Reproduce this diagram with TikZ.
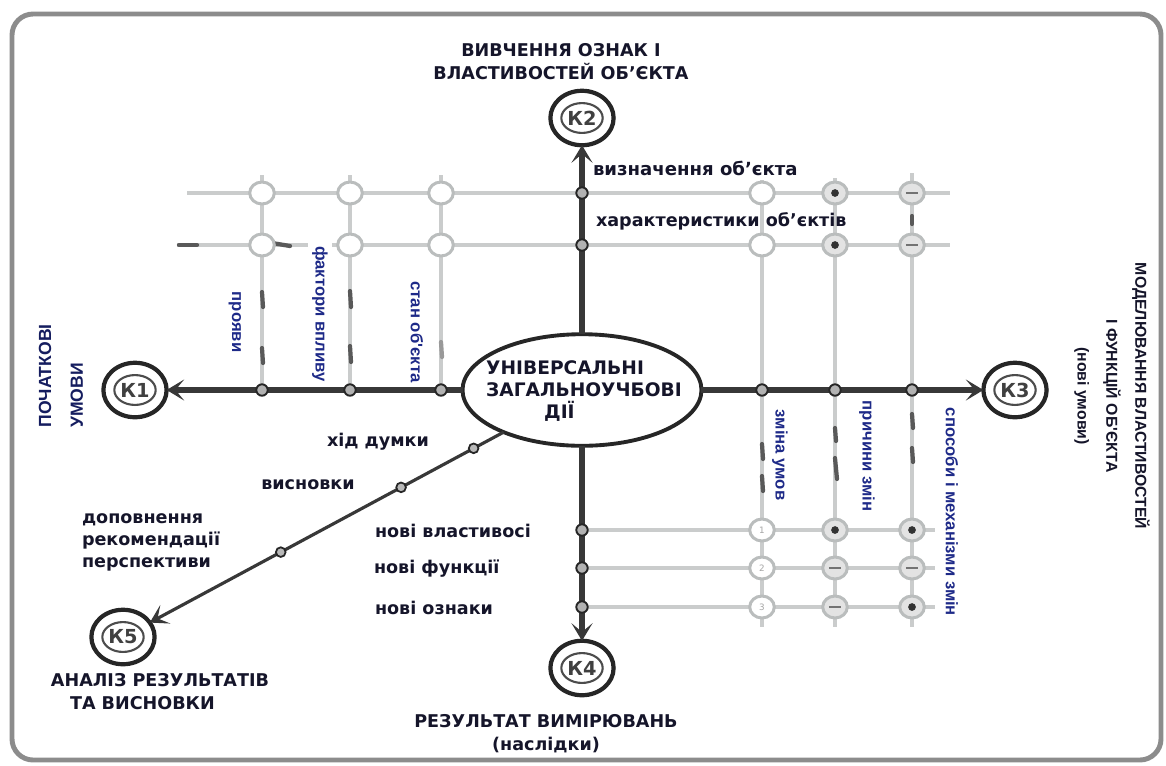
\documentclass[tikz,border=0pt]{standalone}
\usepackage{fontspec}
\setmainfont{DejaVu Sans}
\newfontfamily\narrowfont{Liberation Sans}
\usetikzlibrary{arrows.meta,shapes.geometric}

\definecolor{axisgray}{HTML}{383838}
\definecolor{gridgray}{HTML}{CACCCC}
\definecolor{ringgray}{HTML}{BABDBD}
\definecolor{inkblue}{HTML}{1E2A88}
\definecolor{ink}{HTML}{15152A}
\definecolor{framegray}{HTML}{8C8C8C}

\begin{document}
\begin{tikzpicture}[x=0.02cm,y=-0.02cm,
  every node/.style={inner sep=0pt, outer sep=0pt},
  axisline/.style={line width=3pt, draw=axisgray},
  tipend/.style={-{Stealth[length=10pt,width=12pt,inset=5pt]}},
  diagline/.style={line width=1.8pt, draw=axisgray},
  gridline/.style={line width=2.6pt, draw=gridgray},
  darkdash/.style={line width=2.4pt, draw=black!65, line cap=round},
  kring/.style={ellipse, draw=black!85, line width=2.4pt, fill=white,
    minimum width=36pt, minimum height=31pt},
  kinner/.style={ellipse, draw=black!70, line width=1.2pt, inner sep=0pt,
    minimum width=21pt, minimum height=17pt,
    font=\bfseries\fontsize{11}{11}\selectfont, text=black!75},
  axdot/.style={circle, draw=black!85, fill=gray!60, line width=1.1pt, minimum size=6.5pt},
  diagdot/.style={circle, draw=black!85, fill=gray!55, line width=1pt, minimum size=5.5pt},
  ring/.style={ellipse, draw=ringgray, fill=white, line width=1.7pt,
    minimum width=14pt, minimum height=12.5pt},
  ringdot/.style={ring, fill=gray!22, path picture={
    \fill[black!80] (path picture bounding box.center) circle (2.2pt);}},
  ringdash/.style={ring, fill=gray!22, path picture={
    \draw[black!55, line width=1.4pt]
      ([xshift=-3.5pt]path picture bounding box.center) --
      ([xshift=3.5pt]path picture bounding box.center);}},
  ringnum/.style={ring, font=\fontsize{5}{5}\selectfont, text=gray!70},
  mainlabel/.style={font=\bfseries\fontsize{10}{13}\selectfont, text=ink},
  sidelabel/.style={font=\narrowfont\bfseries\fontsize{9.5}{11}\selectfont,
    text=inkblue, fill=white, inner sep=2.5pt},
  captionlabel/.style={font=\narrowfont\bfseries\fontsize{9}{16.5}\selectfont, text=ink}
]
\useasboundingbox (0,0) rectangle (1166,765);

% outer frame
\draw[framegray, line width=2.8pt, rounded corners=12pt] (12,14) rectangle (1161,760);

% ---------- light grid: end points ----------
\coordinate (raw) at (187,193);  \coordinate (rae) at (950,193);
\coordinate (rbw) at (177,245);  \coordinate (rbe) at (950,245);
\coordinate (r1e) at (935,530);  \coordinate (r2e) at (935,568);  \coordinate (r3e) at (935,607);
\coordinate (t262) at (262,175); \coordinate (t350) at (350,175); \coordinate (t441) at (441,175);
\coordinate (t762) at (762,180); \coordinate (t835) at (835,178); \coordinate (t912) at (912,173);
\coordinate (b762) at (762,627); \coordinate (b835) at (835,627); \coordinate (b912) at (912,627);

% main nodes
\node[ellipse, draw=black!85, line width=2.2pt, fill=white,
      minimum width=136pt, minimum height=63.5pt] (uzd) at (582,390) {};
\node[kring] (k1) at (135,390) {};
\node[kring] (k2) at (582,118) {};
\node[kring] (k3) at (1015,390) {};
\node[kring] (k4) at (582,668) {};
\node[kring] (k5) at (123,637) {};

% axis dots (positions on the axes)
\coordinate (p1) at (262,390); \coordinate (p2) at (350,390); \coordinate (p3) at (441,390);
\coordinate (q1) at (762,390); \coordinate (q2) at (835,390); \coordinate (q3) at (912,390);
\coordinate (s1) at (582,193); \coordinate (s2) at (582,245);
\coordinate (n1) at (582,530); \coordinate (n2) at (582,568); \coordinate (n3) at (582,607);

% ---------- light grid lines ----------
\draw[gridline] (raw) -- (rae);
\draw[gridline] (rbw) -- (rbe);
\draw[gridline] (n1) -- (r1e);
\draw[gridline] (n2) -- (r2e);
\draw[gridline] (n3) -- (r3e);
\draw[gridline] (t262) -- (p1);
\draw[gridline] (t350) -- (p2);
\draw[gridline] (t441) -- (p3);
\draw[gridline] (t762) -- (b762);
\draw[gridline] (t835) -- (b835);
\draw[gridline] (t912) -- (b912);

% dark dash fragments on the light lines
\draw[darkdash] (179,245) -- (197,245);
\draw[darkdash] (266,242) -- (290,246);
\draw[darkdash] (262,292) -- (263,307);
\draw[darkdash] (262,348) -- (263,363);
\draw[darkdash] (350,291) -- (351,307);
\draw[darkdash] (350,346) -- (351,362);
\draw[darkdash, draw=black!40] (441,342) -- (442,357);
\draw[darkdash] (762,444) -- (763,459);
\draw[darkdash] (762,476) -- (763,491);
\draw[darkdash] (835,428) -- (836,441);
\draw[darkdash] (835,458) -- (837,479);
\draw[darkdash] (912,414) -- (913,428);
\draw[darkdash] (912,448) -- (913,462);
\draw[darkdash] (912,216) -- (912,224);

% ---------- axes with arrows ----------
\draw[axisline,tipend] (uzd) -- (k1);
\draw[axisline,tipend] (uzd) -- (k2);
\draw[axisline,tipend] (uzd) -- (k3);
\draw[axisline,tipend] (uzd) -- (k4);
\draw[diagline,tipend] (uzd) -- (k5)
  node[diagdot,pos=0.085] (e1) {}
  node[diagdot,pos=0.29] (e2) {}
  node[diagdot,pos=0.63] (e3) {};

% ---------- grid rings ----------
\foreach \x in {262,350,441,762}{
  \node[ring] (ga\x) at (\x,193) {};
  \node[ring] (gb\x) at (\x,245) {};
}
\node[ringdot]  (ga835) at (835,193) {};
\node[ringdot]  (gb835) at (835,245) {};
\node[ringdash] (ga912) at (912,193) {};
\node[ringdash] (gb912) at (912,245) {};
\node[ringnum]  (g1762) at (762,530) {1};
\node[ringnum]  (g2762) at (762,568) {2};
\node[ringnum]  (g3762) at (762,607) {3};
\node[ringdot]  (g1835) at (835,530) {};
\node[ringdash] (g2835) at (835,568) {};
\node[ringdash] (g3835) at (835,607) {};
\node[ringdot]  (g1912) at (912,530) {};
\node[ringdash] (g2912) at (912,568) {};
\node[ringdot]  (g3912) at (912,607) {};

% ---------- axis dots ----------
\foreach \c in {p1,p2,p3,q1,q2,q3,s1,s2,n1,n2,n3}{
  \node[axdot] (\c-dot) at (\c) {};
}

% ---------- K circles ----------
\node[kinner] (k1t) at (k1) {К1};
\node[kinner] (k2t) at (k2) {К2};
\node[kinner] (k3t) at (k3) {К3};
\node[kinner] (k4t) at (k4) {К4};
\node[kinner] (k5t) at (k5) {К5};

% ---------- central text ----------
\node[mainlabel, align=left, font=\bfseries\fontsize{10.6}{12.5}\selectfont] (uzdtext) at (584,391)
  {УНІВЕРСАЛЬНІ\\ЗАГАЛЬНОУЧБОВІ\\\hspace*{33pt}ДІЇ};

% ---------- captions of the K nodes ----------
\node[mainlabel, align=center] (k2cap) at (561,62) {ВИВЧЕННЯ ОЗНАК І\\ВЛАСТИВОСТЕЙ ОБ'ЄКТА};
\node[mainlabel, align=center] (k4cap) at (546,734) {РЕЗУЛЬТАТ ВИМІРЮВАНЬ\\(наслідки)};
\node[mainlabel, align=center] (k5cap) at (160,692) {АНАЛІЗ РЕЗУЛЬТАТІВ\\ТА ВИСНОВКИ\hspace*{20pt}};
\node[captionlabel, font=\narrowfont\bfseries\fontsize{10}{18}\selectfont, text=inkblue!70!black,
      align=left, rotate=90] (k1cap) at (61,376) {ПОЧАТКОВІ\\УМОВИ};
\node[captionlabel, align=center, rotate=-90] (k3cap) at (1112,396)
  {МОДЕЛЮВАННЯ ВЛАСТИВОСТЕЙ\\І ФУНКЦІЙ ОБ'ЄКТА\\(нові умови)};

% ---------- labels along the axes ----------
\node[mainlabel, anchor=west, font=\bfseries\fontsize{10.3}{13}\selectfont] (l1) at (593,168) {визначення об'єкта};
\node[mainlabel, anchor=west] (l2) at (596,221) {характеристики об'єктів};
\node[mainlabel] (l3) at (378,442) {хід думки};
\node[mainlabel] (l4) at (308,485) {висновки};
\node[mainlabel, align=left, anchor=west, font=\bfseries\fontsize{10}{12.5}\selectfont]
  (l5) at (82,542) {доповнення\\рекомендації\\перспективи};
\node[mainlabel, anchor=west] (l6) at (375,531) {нові властивосі};
\node[mainlabel, anchor=west] (l7) at (374,569) {нові функції};
\node[mainlabel, anchor=west] (l8) at (375,608) {нові ознаки};

% ---------- rotated labels on the light verticals ----------
\node[sidelabel, rotate=-90] (v1) at (235,322) {прояви};
\node[sidelabel, rotate=-90] (v2) at (320,314) {фактори впливу};
\node[sidelabel, rotate=-90] (v3) at (417,332) {стан об'єкта};
\node[sidelabel, rotate=-90] (v4) at (780,455) {зміна умов};
\node[sidelabel, rotate=-90] (v5) at (867,456) {причини змін};
\node[sidelabel, rotate=-90] (v6) at (952,512) {способи і механізми змін};
\end{tikzpicture}
\end{document}
